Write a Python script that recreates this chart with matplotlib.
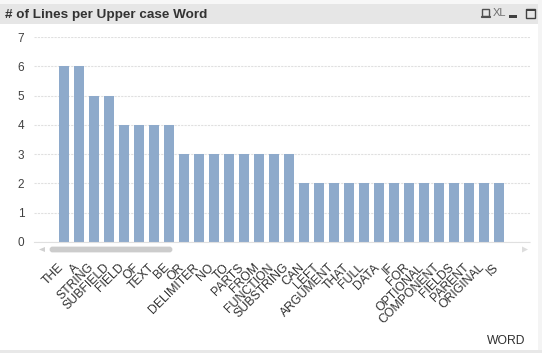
import matplotlib
matplotlib.use("Agg")
import matplotlib.pyplot as plt
from matplotlib.patches import FancyBboxPatch, Polygon, Rectangle
from matplotlib.transforms import ScaledTranslation

words = ["THE", "A", "STRING", "SUBFIELD", "FIELD", "OF", "TEXT", "BE", "OR", "DELIMITER",
         "NO", "TO", "PARTS", "FROM", "FUNCTION", "SUBSTRING", "CAN", "LEFT", "ARGUMENT", "THAT",
         "FULL", "DATA", "IF", "FOR", "OPTIONAL", "COMPONENT", "FIELDS", "PARENT", "ORIGINAL", "IS"]
line_counts = [6, 6, 5, 5, 4, 4, 4, 4, 3, 3,
               3, 3, 3, 3, 3, 3, 2, 2, 2, 2,
               2, 2, 2, 2, 2, 2, 2, 2, 2, 2]
y_ticks = [0, 1, 2, 3, 4, 5, 6, 7]

W, H = 542, 353
fig = plt.figure(figsize=(W / 100, H / 100), dpi=100, facecolor="white")

# overlay in pixel coords for the window chrome
bg = fig.add_axes([0, 0, 1, 1], zorder=0)
bg.set_xlim(0, W)
bg.set_ylim(H, 0)
bg.axis("off")
bg.add_patch(Rectangle((0, 0), W, 4, color="#f7f7f7", lw=0))
bg.add_patch(Rectangle((0, 4), 538, 20, color="#e6e6e6", lw=0))
bg.add_patch(Rectangle((538, 0), 4, H, color="#f4f4f4", lw=0))
bg.add_patch(Rectangle((0, 350), W, 3, color="#e8e8e8", lw=0))
bg.text(5, 15, "# of Lines per Upper case Word", fontsize=9.7, fontweight="bold",
        family="Liberation Sans", color="#333333", va="center", ha="left")

# title bar icons
bg.add_patch(Rectangle((482, 8.5), 7, 7, fill=False, ec="#505050", lw=1))
bg.add_patch(Rectangle((481, 15.5), 9, 1.5, fill=False, ec="#505050", lw=0.8))
bg.text(499.5, 12.5, "XL", fontsize=8, family="Liberation Sans", color="#707070", va="center", ha="center")
bg.add_patch(Rectangle((509, 15), 8, 3, color="#404040", lw=0))
bg.add_patch(Rectangle((525.5, 8.5), 9, 9, fill=False, ec="#404040", lw=1))
bg.add_patch(Rectangle((525.5, 8.5), 9, 2.5, color="#404040", lw=0))

# scrollbar
bg.add_patch(FancyBboxPatch((51, 248), 120, 3, boxstyle="round,pad=0,rounding_size=1.5", fc="#cccccc", ec="#cccccc", lw=2))
bg.add_patch(Polygon([[39, 249.5], [45, 247], [45, 252]], color="#d0d0d0", lw=0))
bg.add_patch(Polygon([[528, 249.5], [522, 246.5], [522, 252.5]], color="#dddddd", lw=0))
bg.text(525, 341, "WORD", fontsize=8.7, family="Liberation Sans", color="#303030", va="center", ha="right")

ax = fig.add_axes([34 / W, 1 - 242 / H, (530 - 34) / W, (242 - 37) / H], zorder=1)
ax.patch.set_alpha(0)
x = list(range(len(words)))
ax.bar(x, line_counts, width=10 / 15, color="#8eaacb", zorder=2)
ax.set_xlim(-2, 31.07)
ax.set_ylim(0, 7)
ax.set_yticks(y_ticks)
ax.set_xticks(x)
ax.set_xticklabels(words, rotation=45, ha="right", va="top", rotation_mode="anchor",
                   family="Liberation Sans", fontsize=8.8, color="#303030")
ax.tick_params(axis="x", length=0, pad=14)
ax.tick_params(axis="y", length=0, pad=7, labelsize=8.5, labelcolor="#404040")
for lab in ax.get_yticklabels():
    lab.set_family("Liberation Sans")
# nudge the rotated labels left so they end under the bars
shift = ScaledTranslation(-6 / 100, 0, fig.dpi_scale_trans)
for lab in ax.get_xticklabels():
    lab.set_transform(lab.get_transform() + shift)
ax.grid(True, axis="y", color="#e0e0e0", linestyle=(0, (2, 1)), linewidth=0.8, zorder=1)
for s in ["top", "right", "left"]:
    ax.spines[s].set_visible(False)
ax.spines["bottom"].set_color("#e0e0e0")
ax.spines["bottom"].set_linestyle((0, (2, 1)))
ax.spines["bottom"].set_linewidth(0.8)

fig.savefig("out.png", dpi=100)
